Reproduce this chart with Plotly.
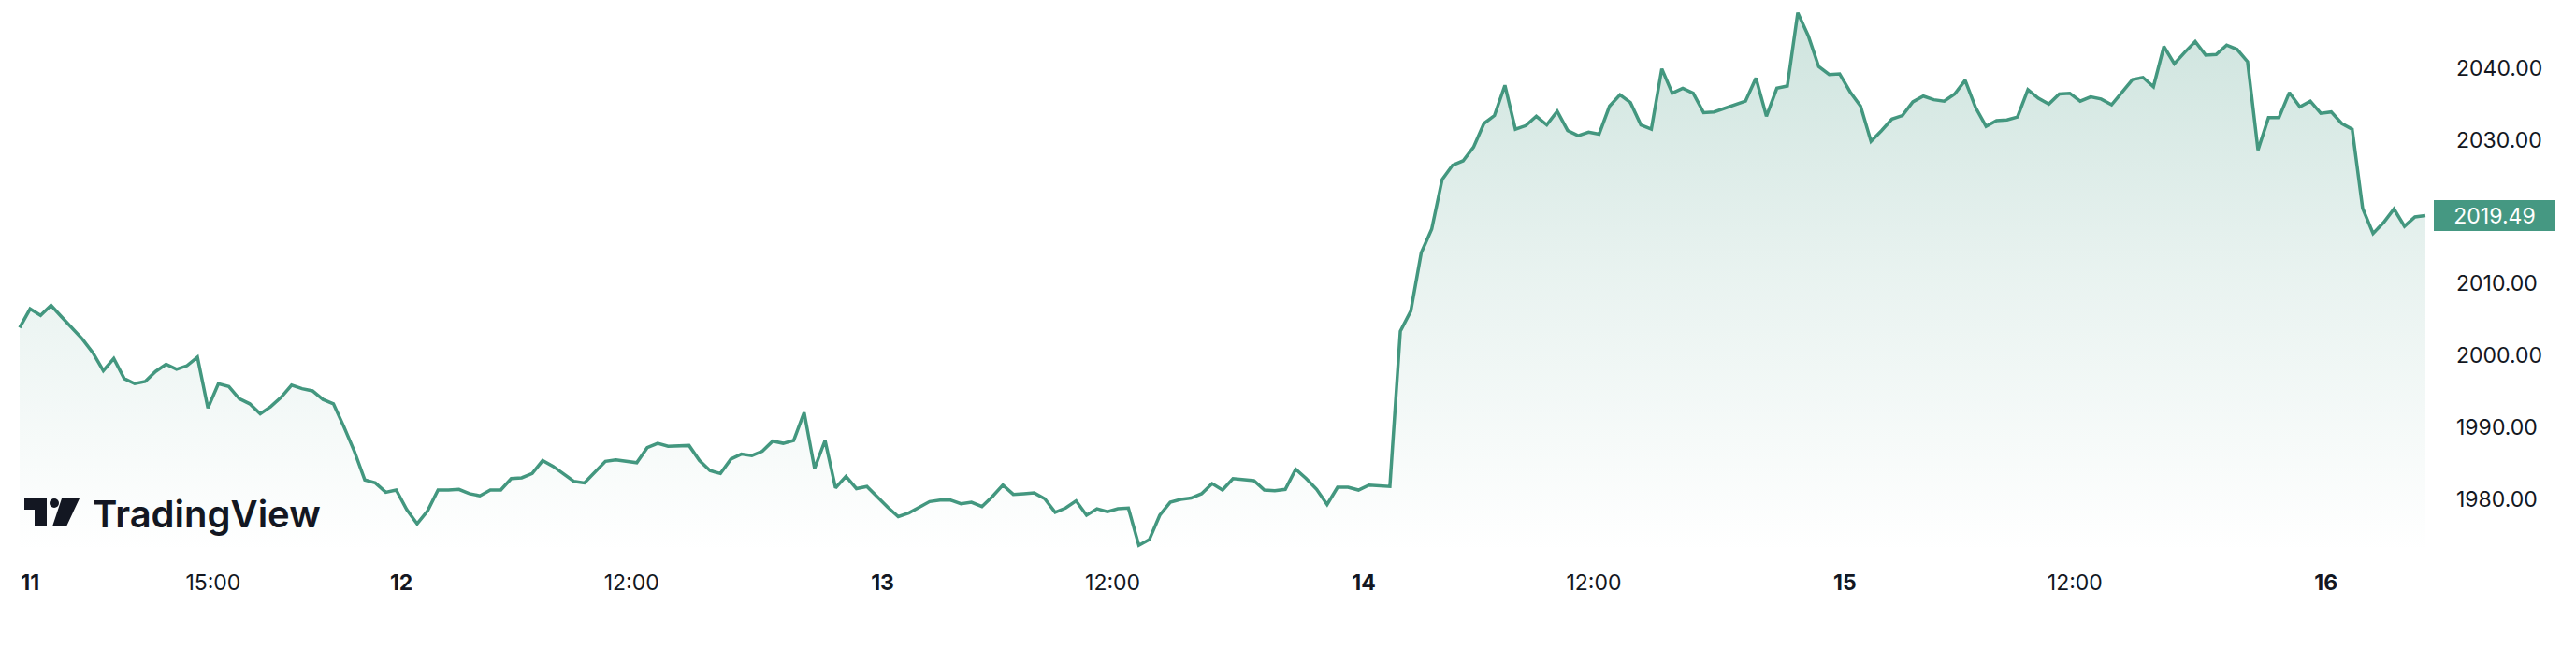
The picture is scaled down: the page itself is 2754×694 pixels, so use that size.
import plotly.graph_objects as go

# ---- data (30-minute samples, trading-session hours since 11th 01:00) ----
prices = [
    2003.9, 2006.5, 2005.6, 2007.0, 2005.4, 2003.8, 2002.3, 2000.4, 1997.9, 1999.6,
    1996.8, 1996.1, 1996.4, 1997.8, 1998.8, 1998.1, 1998.6, 1999.8, 1992.7, 1996.1,
    1995.7, 1994.0, 1993.3, 1991.9, 1992.9, 1994.2, 1995.9, 1995.4, 1995.1, 1993.9,
    1993.3, 1990.1, 1986.7, 1982.7, 1982.3, 1981.0, 1981.3, 1978.6, 1976.6, 1978.4,
    1981.3, 1981.3, 1981.4, 1980.8, 1980.5, 1981.3, 1981.3, 1982.9, 1983.0, 1983.6,
    1985.4, 1984.6, 1983.5, 1982.5, 1982.3, 1983.8, 1985.3, 1985.5, 1985.3, 1985.1,
    1987.2, 1987.8, 1987.4, 1987.5, 1987.5, 1985.4, 1984.0, 1983.6, 1985.6, 1986.3,
    1986.1, 1986.7, 1988.1, 1987.8, 1988.2, 1992.1, 1984.3, 1988.2, 1981.6, 1983.2,
    1981.5, 1981.8, 1980.3, 1978.9, 1977.6, 1978.1, 1978.9, 1979.7, 1979.9, 1979.9,
    1979.4, 1979.6, 1979.0, 1980.4, 1982.0, 1980.7, 1980.8, 1980.9, 1980.1, 1978.2,
    1978.8, 1979.8, 1977.8, 1978.7, 1978.3, 1978.7, 1978.8, 1973.6, 1974.4, 1977.8,
    1979.6, 1980.0, 1980.2, 1980.8, 1982.2, 1981.3, 1982.9, 1982.8, 1982.6, 1981.3,
    1981.2, 1981.4, 1984.2, 1982.9, 1981.4, 1979.3, 1981.7, 1981.7, 1981.3, 1982.0,
    1981.9, 1981.8, 2003.4, 2006.2, 2014.3, 2017.6, 2024.5, 2026.5, 2027.1, 2029.0,
    2032.3, 2033.4, 2037.6, 2031.5, 2032.0, 2033.3, 2032.1, 2034.0, 2031.3, 2030.6,
    2031.1, 2030.8, 2034.7, 2036.3, 2035.2, 2032.1, 2031.5, 2039.9, 2036.5, 2037.2,
    2036.5, 2033.8, 2033.9, 2034.4, 2034.8, 2035.4, 2038.6, 2033.3, 2037.2, 2037.5,
    2047.7, 2044.5, 2040.2, 2039.1, 2039.2, 2036.7, 2034.7, 2029.8, 2031.3, 2032.9,
    2033.4, 2035.3, 2036.1, 2035.6, 2035.4, 2036.4, 2038.3, 2034.5, 2031.9, 2032.7,
    2032.8, 2033.2, 2037.0, 2035.8, 2035.0, 2036.4, 2036.5, 2035.4, 2036.0, 2035.7,
    2034.9, 2036.6, 2038.4, 2038.7, 2037.4, 2043.0, 2040.6, 2042.2, 2043.7, 2041.8,
    2041.9, 2043.2, 2042.6, 2040.9, 2028.6, 2033.1, 2033.1, 2036.6, 2034.6, 2035.4,
    2033.7, 2033.9, 2032.3, 2031.5, 2020.5, 2017.0, 2018.5, 2020.4, 2018.0, 2019.3,
    2019.49,
]
start_hour = 4.75
step_hours = 0.5
hours = [start_hour + step_hours * i for i in range(len(prices))]

tick_hours = [5.25, 14, 23, 34, 46, 57, 69, 80, 92, 103, 115]
tick_labels = ["<b>11</b>", "15:00", "<b>12</b>", "12:00", "<b>13</b>", "12:00",
               "<b>14</b>", "12:00", "<b>15</b>", "12:00", "<b>16</b>"]
# 2020.00 is hidden behind the last-price badge in the original
price_ticks = [1980, 1990, 2000, 2010, 2030, 2040]
last_price = prices[-1]

# ---- style ----
LINE = "#43977f"
TEXT = "#131722"
FONT = "Inter"
W, H = 2754, 694
ML, MR, MT, MB = 0, 157, 0, 104
y_lo, y_hi = 1972.72, 2049.47
x_lo, x_hi = 3.811, 119.93

fig = go.Figure()
fig.add_trace(go.Scatter(
    x=hours, y=prices, mode="lines",
    line=dict(color=LINE, width=3.5),
    fill="tozeroy",
    fillgradient=dict(type="vertical", start=y_lo, stop=y_hi,
                      colorscale=[[0, "rgba(69,152,130,0.0)"],
                                  [0.5, "rgba(69,152,130,0.12)"],
                                  [1, "rgba(69,152,130,0.27)"]]),
    hoverinfo="skip", showlegend=False,
))

fig.update_layout(
    width=W, height=H,
    margin=dict(l=ML, r=MR, t=MT, b=MB),
    paper_bgcolor="white", plot_bgcolor="white",
    font=dict(family=FONT, color=TEXT, size=23),
    showlegend=False,
    xaxis=dict(range=[x_lo, x_hi], tickvals=tick_hours, ticktext=tick_labels,
               showgrid=False, zeroline=False, showline=False, ticks="",
               tickfont=dict(family=FONT, size=23, color=TEXT),
               ticklabelstandoff=17, fixedrange=True),
    yaxis=dict(range=[y_lo, y_hi], side="right", tickvals=price_ticks,
               tickformat=".2f", showgrid=False, zeroline=False, showline=False,
               ticks="", tickfont=dict(family=FONT, size=23, color=TEXT),
               ticklabelstandoff=28, fixedrange=True),
)

# last-price badge
fig.add_annotation(
    x=1, xref="paper", y=last_price, yref="y", xanchor="left", yanchor="middle",
    xshift=5, text=f"{last_price:.2f}", showarrow=False,
    font=dict(family=FONT, size=23, color="white"),
    bgcolor="#459882", borderwidth=0, borderpad=0, width=130, height=33,
    align="center",
)

# TradingView watermark: icon shapes (pixel-sized, anchored at plot bottom-left)
icon_paths = [
    "M26,45 L50,45 L50,57 L26,57 Z",
    "M37,27 L50,27 L50,57 L37,57 Z",
    "M66,57 L85,57 L71,27 L56,27 Z",
]
for p in icon_paths:
    fig.add_shape(type="path", path=p, xref="paper", yref="paper",
                  xsizemode="pixel", ysizemode="pixel", xanchor=0, yanchor=0,
                  fillcolor=TEXT, line=dict(width=0))
fig.add_shape(type="circle", xref="paper", yref="paper",
              xsizemode="pixel", ysizemode="pixel", xanchor=0, yanchor=0,
              x0=53, x1=63, y0=47, y1=57, fillcolor=TEXT, line=dict(width=0))
fig.add_annotation(
    x=97 / (W - ML - MR), xref="paper", y=41 / (H - MT - MB), yref="paper",
    xanchor="left", yanchor="middle", text="TradingView", showarrow=False,
    font=dict(family=FONT, size=40, color=TEXT, weight=600),
)

fig.write_html("out.html", config={"displayModeBar": False},
               post_script="document.body.style.margin='0';")
